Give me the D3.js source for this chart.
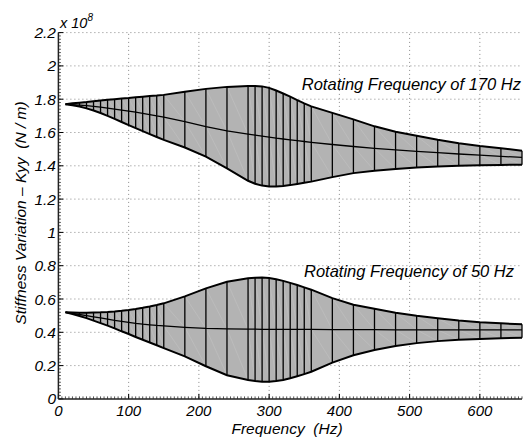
<!DOCTYPE html>
<html>
<head>
<meta charset="utf-8">
<script src="https://cdn.jsdelivr.net/npm/d3@7"></script>
<style>
  body { margin: 0; background: #fff; }
  text { font-family: "Liberation Sans", Arial, sans-serif; font-style: italic; fill: #000; }
</style>
</head>
<body>
<div id="chart"></div>
<script>
var svgWidth = 530;
var svgHeight = 444;

// frequencies where the vertical lines sit (Hz)
var freqs = [10, 20, 30, 40, 50, 60, 70, 80, 90, 100, 110, 120, 130, 140, 150,
  180, 210, 240, 270, 280, 290, 300, 310, 320, 330, 340, 350, 360,
  390, 420, 450, 480, 510, 540, 570, 600, 630, 660];

// Rotating frequency 170 Hz (x 1e8 N/m)
var top170 = [1.770, 1.775, 1.779, 1.783, 1.788, 1.792, 1.796, 1.800, 1.804, 1.807, 1.811, 1.815, 1.819, 1.822, 1.826,
  1.845, 1.862, 1.874, 1.880, 1.880, 1.877, 1.868, 1.852, 1.834, 1.815, 1.795, 1.775, 1.757,
  1.718, 1.679, 1.637, 1.605, 1.580, 1.556, 1.536, 1.519, 1.505, 1.491];
var mid170 = [1.770, 1.768, 1.765, 1.761, 1.757, 1.752, 1.747, 1.741, 1.735, 1.729, 1.722, 1.715, 1.708, 1.700, 1.693,
  1.665, 1.635, 1.610, 1.590, 1.584, 1.578, 1.572, 1.566, 1.561, 1.556, 1.551, 1.546, 1.541,
  1.528, 1.516, 1.505, 1.496, 1.487, 1.479, 1.471, 1.464, 1.457, 1.450];
var low170 = [1.770, 1.764, 1.756, 1.745, 1.732, 1.717, 1.700, 1.682, 1.663, 1.644, 1.626, 1.608, 1.590, 1.573, 1.556,
  1.510, 1.455, 1.385, 1.310, 1.292, 1.281, 1.276, 1.275, 1.278, 1.284, 1.291, 1.298, 1.305,
  1.332, 1.356, 1.370, 1.381, 1.390, 1.396, 1.400, 1.403, 1.405, 1.407];

// Rotating frequency 50 Hz (x 1e8 N/m)
var top50 = [0.520, 0.519, 0.518, 0.518, 0.519, 0.520, 0.522, 0.525, 0.529, 0.534, 0.540, 0.547, 0.555, 0.564, 0.574,
  0.616, 0.664, 0.704, 0.724, 0.728, 0.729, 0.726, 0.719, 0.709, 0.697, 0.684, 0.670, 0.656,
  0.605, 0.566, 0.542, 0.518, 0.499, 0.484, 0.471, 0.461, 0.454, 0.448];
var mid50 = [0.520, 0.514, 0.507, 0.500, 0.493, 0.486, 0.479, 0.472, 0.466, 0.460, 0.454, 0.449, 0.445, 0.441, 0.438,
  0.430, 0.424, 0.421, 0.419, 0.419, 0.418, 0.418, 0.418, 0.417, 0.417, 0.417, 0.417, 0.417,
  0.416, 0.416, 0.416, 0.415, 0.415, 0.415, 0.415, 0.414, 0.414, 0.414];
var low50 = [0.520, 0.510, 0.498, 0.485, 0.470, 0.455, 0.440, 0.424, 0.406, 0.390, 0.372, 0.355, 0.339, 0.322, 0.305,
  0.255, 0.196, 0.142, 0.114, 0.107, 0.103, 0.103, 0.107, 0.114, 0.124, 0.136, 0.149, 0.163,
  0.218, 0.262, 0.294, 0.318, 0.335, 0.347, 0.355, 0.360, 0.364, 0.368];

var xTicks = [0, 100, 200, 300, 400, 500, 600];
var yTicks = [0, 0.2, 0.4, 0.6, 0.8, 1, 1.2, 1.4, 1.6, 1.8, 2, 2.2];
var labels = ["Rotating Frequency of 170 Hz", "Rotating Frequency of 50 Hz"];

var svg = d3.select("#chart")
  .append("svg")
  .attr("width", svgWidth)
  .attr("height", svgHeight);

var xScale = d3.scaleLinear().domain([0, 660]).range([58.4, 522]);
var yScale = d3.scaleLinear().domain([0, 2.2]).range([398.9, 32.6]);

// dotted grid
svg.append("g").selectAll("line")
  .data(yTicks.slice(1))
  .join("line")
  .attr("x1", xScale(0)).attr("x2", xScale(660))
  .attr("y1", d => yScale(d)).attr("y2", d => yScale(d))
  .attr("stroke", "#888").attr("stroke-width", 1)
  .attr("stroke-dasharray", "1,3");

svg.append("g").selectAll("line")
  .data(xTicks.slice(1))
  .join("line")
  .attr("x1", d => xScale(d)).attr("x2", d => xScale(d))
  .attr("y1", yScale(0)).attr("y2", yScale(2.2))
  .attr("stroke", "#888").attr("stroke-width", 1)
  .attr("stroke-dasharray", "1,3");

// bands
var bands = [[top170, mid170, low170], [top50, mid50, low50]];

bands.forEach(function(b) {
  var top = b[0], mid = b[1], low = b[2];
  var pts = freqs.map((f, i) => ({ f: f, t: top[i], m: mid[i], l: low[i] }));
  var g = svg.append("g");

  var area = d3.area()
    .x(d => xScale(d.f))
    .y0(d => yScale(d.l))
    .y1(d => yScale(d.t));

  g.append("path")
    .datum(pts)
    .attr("d", area)
    .attr("fill", "#b3b3b3");

  // faint seams of the patch triangles
  var seams = [];
  for (var i = 0; i < pts.length - 1; i++) {
    seams.push([pts[i].f, pts[i].t, pts[i + 1].f, pts[i + 1].m]);
    seams.push([pts[i].f, pts[i].m, pts[i + 1].f, pts[i + 1].l]);
  }
  g.selectAll(".seam")
    .data(seams)
    .join("line")
    .attr("class", "seam")
    .attr("x1", d => xScale(d[0])).attr("y1", d => yScale(d[1]))
    .attr("x2", d => xScale(d[2])).attr("y2", d => yScale(d[3]))
    .attr("stroke", "#c4c4c4").attr("stroke-width", 0.5);

  // vertical lines
  g.selectAll(".vline")
    .data(pts)
    .join("line")
    .attr("class", "vline")
    .attr("x1", d => xScale(d.f)).attr("x2", d => xScale(d.f))
    .attr("y1", d => yScale(d.t)).attr("y2", d => yScale(d.l))
    .attr("stroke", "#000").attr("stroke-width", 1.3);

  var line = function(key) {
    return d3.line().x(d => xScale(d.f)).y(d => yScale(d[key]));
  };
  g.append("path").datum(pts).attr("d", line("m"))
    .attr("fill", "none").attr("stroke", "#000").attr("stroke-width", 1.3);
  g.append("path").datum(pts).attr("d", line("t"))
    .attr("fill", "none").attr("stroke", "#000").attr("stroke-width", 2);
  g.append("path").datum(pts).attr("d", line("l"))
    .attr("fill", "none").attr("stroke", "#000").attr("stroke-width", 2);
});

// axes with minor ticks
var axisG = svg.append("g");
var minorX = d3.range(0, 661, 5);
axisG.selectAll(".mx")
  .data(minorX)
  .join("line")
  .attr("x1", d => xScale(d)).attr("x2", d => xScale(d))
  .attr("y1", yScale(0)).attr("y2", yScale(0) - 2.5)
  .attr("stroke", "#555").attr("stroke-width", 1);
var minorY = d3.range(0, 2.2001, 0.02);
axisG.selectAll(".my")
  .data(minorY)
  .join("line")
  .attr("x1", xScale(0)).attr("x2", xScale(0) + 2.5)
  .attr("y1", d => yScale(d)).attr("y2", d => yScale(d))
  .attr("stroke", "#555").attr("stroke-width", 1);

axisG.selectAll(".tx")
  .data(xTicks)
  .join("line")
  .attr("x1", d => xScale(d)).attr("x2", d => xScale(d))
  .attr("y1", yScale(0)).attr("y2", yScale(0) - 5)
  .attr("stroke", "#000").attr("stroke-width", 1);
axisG.selectAll(".ty")
  .data(yTicks)
  .join("line")
  .attr("x1", xScale(0)).attr("x2", xScale(0) + 5)
  .attr("y1", d => yScale(d)).attr("y2", d => yScale(d))
  .attr("stroke", "#000").attr("stroke-width", 1);

axisG.append("line")
  .attr("x1", xScale(0)).attr("x2", xScale(660))
  .attr("y1", yScale(0)).attr("y2", yScale(0))
  .attr("stroke", "#222").attr("stroke-width", 1.5);
axisG.append("line")
  .attr("x1", xScale(0)).attr("x2", xScale(0))
  .attr("y1", yScale(0)).attr("y2", yScale(2.2))
  .attr("stroke", "#222").attr("stroke-width", 1.5);

// tick labels
svg.append("g").selectAll("text")
  .data(xTicks)
  .join("text")
  .attr("x", d => xScale(d))
  .attr("y", 415.5)
  .attr("text-anchor", "middle")
  .attr("font-size", 15)
  .text(d => d);

svg.append("g").selectAll("text")
  .data(yTicks)
  .join("text")
  .attr("x", 56)
  .attr("y", d => yScale(d) + 5.5)
  .attr("text-anchor", "end")
  .attr("font-size", 15.5)
  .text(d => String(+d.toFixed(1)));

// exponent
var expo = svg.append("text").attr("x", 60).attr("y", 28).attr("font-size", 14.5);
expo.append("tspan").text("x 10");
expo.append("tspan").attr("dy", -7).attr("font-size", 10).text("8");

// axis labels
svg.append("text")
  .attr("x", 287)
  .attr("y", 434)
  .attr("text-anchor", "middle")
  .attr("font-size", 15.5)
  .attr("xml:space", "preserve")
  .text("Frequency  (Hz)");

svg.append("text")
  .attr("transform", "translate(26, 213) rotate(-90)")
  .attr("text-anchor", "middle")
  .attr("font-size", 15.5)
  .attr("xml:space", "preserve")
  .text("Stiffness Variation \u2013 Kyy  (N / m)");

// band labels
svg.append("text")
  .attr("x", 521).attr("y", 90)
  .attr("text-anchor", "end")
  .attr("font-size", 16.5)
  .text(labels[0]);
svg.append("text")
  .attr("x", 514).attr("y", 277)
  .attr("text-anchor", "end")
  .attr("font-size", 16.5)
  .text(labels[1]);
</script>
</body>
</html>
